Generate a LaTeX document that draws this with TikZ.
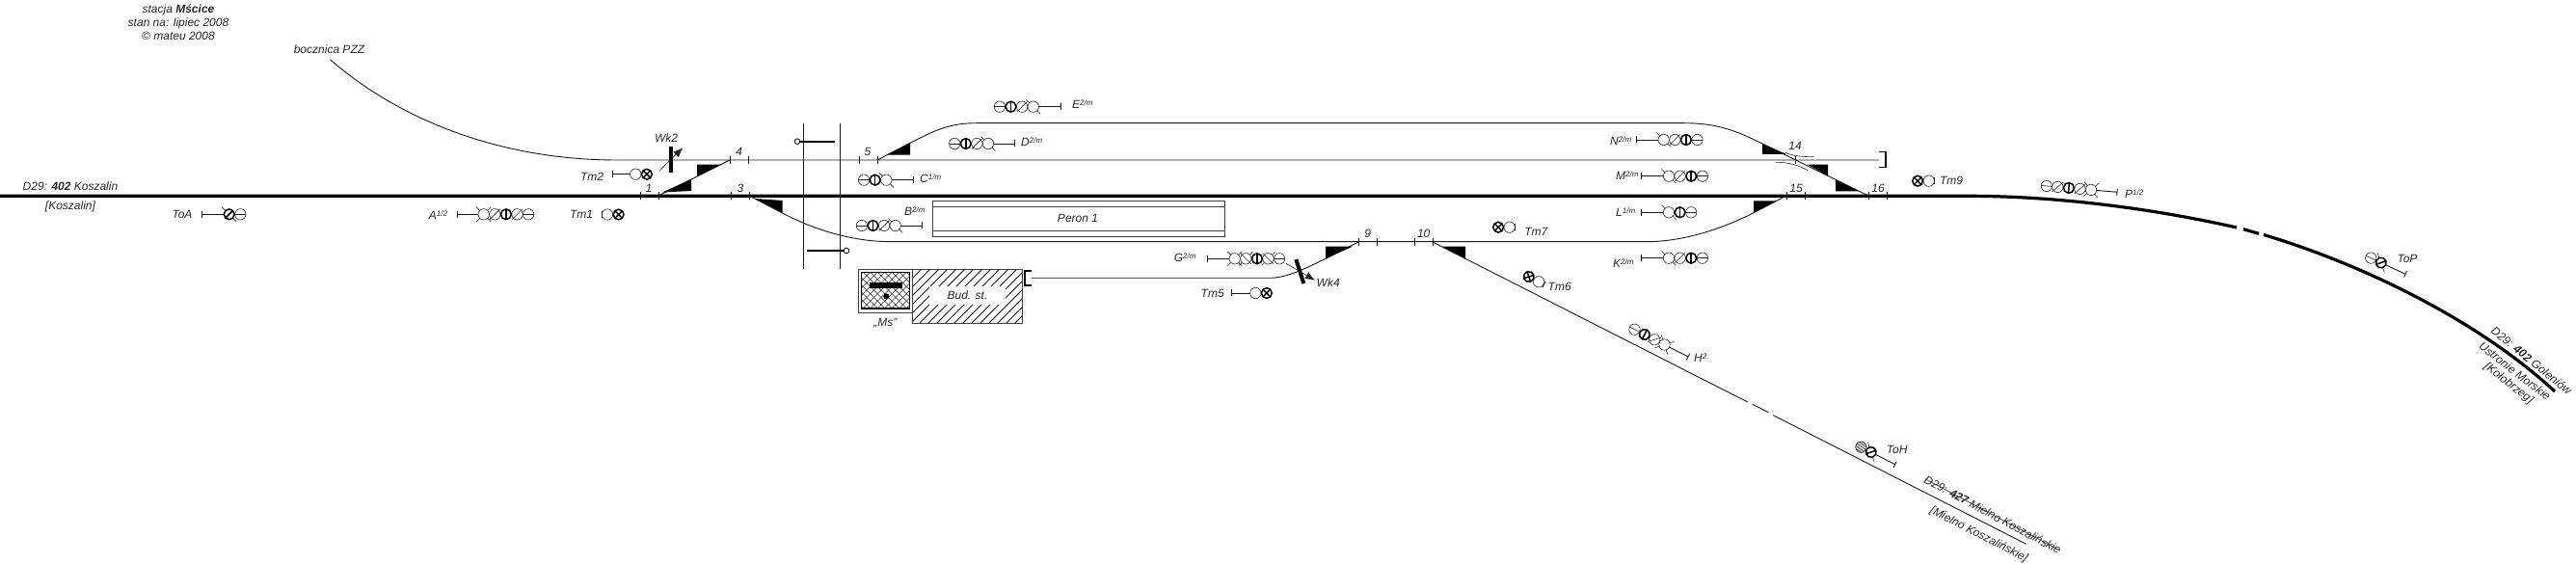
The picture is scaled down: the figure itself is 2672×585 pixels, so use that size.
\documentclass[tikz,border=0pt]{standalone}
\usepackage{fontspec}
\setmainfont{Liberation Sans}
\usetikzlibrary{arrows.meta}
\tikzset{
  tor/.style={line width=0.9pt,black!90},
  glowny/.style={line width=3.2pt,black},
  cienki/.style={line width=0.6pt,black!85},
  gruby/.style={line width=1.5pt,black},
  klin/.style={fill=black,draw=none},
  opis/.style={font=\fontsize{12}{14.3}\selectfont\itshape,inner sep=0pt,black!85,align=center},
  opisl/.style={opis,anchor=west},
  peron/.style={line width=0.9pt,black!75},
  belka/.style={line width=4pt,black},
  strzalka/.style={cienki,-{Latex[length=10pt,width=8pt]}},
}
\newcommand{\wyk}[1]{\raisebox{.55ex}{\fontsize{8}{8}\selectfont #1}}
\newcommand{\lampO}{\draw[cienki] (0,0) circle (5.7);}
\newcommand{\lampE}{\draw[cienki] (0,0) circle (5.7); \draw[cienki] (-5.7,0) -- (5.7,0);}
\newcommand{\lampV}{\draw[gruby] (0,0) circle (5.4); \draw[gruby] (0,-5.4) -- (0,5.4);}
\newcommand{\lampS}{\draw[cienki] (0,0) circle (5.7); \draw[cienki] (-5.4,5.4) -- (5.4,-5.4);}
\newcommand{\lampD}{\draw[cienki] (0,0) circle (5.7); \draw[cienki] (-5.4,-5.4) -- (5.4,5.4);
  \draw[cienki] (-4,4) -- (-7,7) (4,-4) -- (7,-7);}
\newcommand{\lampK}{\lampO \draw[cienki] (-4,-4) -- (-7.5,-7.5) (4,4) -- (7.5,7.5);}
\newcommand{\lampN}{\lampK \draw[cienki] (-4,4) -- (-7.5,7.5) (4,-4) -- (7.5,-7.5);}
\newcommand{\lampB}{\draw[gruby] (0,0) circle (5.4); \draw[gruby] (-3.8,3.8) -- (3.8,-3.8);
  \draw[cienki] (-4,-4) -- (-7.5,-7.5) (4,4) -- (7.5,7.5);}
\newcommand{\lampX}{\draw[gruby] (0,0) circle (5.4); \draw[gruby] (-3.8,-3.8) -- (3.8,3.8) (-3.8,3.8) -- (3.8,-3.8);}
\newcommand{\lampH}{\draw[cienki] (0,0) circle (5.7);
  \begin{scope}
    \clip (0,0) circle (5.7);
    \foreach \s in {-8,-6,...,8}
      \draw[line width=.5pt,black!80] (\s-6,6) -- (\s+6,-6);
  \end{scope}}
\newcommand{\sygnal}[4]{
  \begin{scope}[shift={#1},rotate=#2]
    \draw[tor] (0,-3.5) -- (0,3.5);
    \draw[tor] (0,0) -- ({#3-5.7},0);
    \foreach \l [count=\i from 0] in {#4} {
      \begin{scope}[shift={({#3+11.6*\i},0)}]
        \csname lamp\l\endcsname
      \end{scope}
    }
  \end{scope}
}
\begin{document}
\begin{tikzpicture}[x=1pt,y=-1pt]
  \useasboundingbox (0,0) rectangle (2672,585);
  \coordinate (j1) at (683,203);
  \coordinate (j3) at (777,203);
  \coordinate (j4) at (757,166);
  \coordinate (j5) at (910,166);
  \coordinate (j9) at (1409,251);
  \coordinate (j10) at (1486,251);
  \coordinate (j15) at (1853,203);
  \coordinate (j16) at (1938,203);
  % tory
  \draw[glowny] (0,203.3) -- (2040,203.3) .. controls (2140,203.3) and (2240,218) .. (2320,236);
  \draw[glowny] (2327,237.7) -- (2343,242.3);
  \draw[glowny] (2348,243.5) .. controls (2450,274) and (2570,332) .. (2650,406);
  \draw[tor] (342.4,61.7) .. controls (415,125) and (520,166) .. (640,166) -- (1949,166);
  \draw[tor] (j1) -- (j4);
  \draw[tor] (j3) -- (811,220.7) .. controls (840,236) and (880,250.7) .. (925,250.7) -- (1708,250.7)
    .. controls (1745,250.7) and (1785,238) .. (1819,220.7) -- (j15);
  \draw[tor] (j5) -- (944,148.3) .. controls (970,135) and (985,127.7) .. (1013,127.7) -- (1747,127.7)
    .. controls (1785,127.7) and (1805,138) .. (1828,149) -- (j16);
  \draw[tor] (j9) -- (1375,268.3) .. controls (1355,278) and (1335,288.3) .. (1317,288.3) -- (1070,288.3);
  \draw[tor] (j10) -- (1812.7,417);
  \draw[tor] (1817.7,419.3) -- (1834.3,427.7);
  \draw[tor] (1839.3,430.7) -- (2101.7,564.3);
  \draw[cienki] (1851.7,158.3) .. controls (1860,162) and (1870,162.7) .. (1881.7,162.7);
  \draw[cienki] (1841.7,168.3) .. controls (1855,168.3) and (1865,171) .. (1875,176.7);
  % kozly
  \draw[line width=1.2pt] (1949,157.5) -- (1956,157.5) -- (1956,173.5) -- (1949,173.5);
  \draw[line width=1.2pt] (1070,281) -- (1063,281) -- (1063,296) -- (1070,296);
  % styki
  \foreach \x in {664,683,758,777,1853,1872,1938,1957}
    \draw[tor] (\x,199.5) -- (\x,207);
  \foreach \x in {757,776,891,910,1862}
    \draw[tor] (\x,162.2) -- (\x,169.7);
  \foreach \x in {1409,1428,1467,1486}
    \draw[tor] (\x,247.2) -- (\x,254.7);
  \foreach \n/\x/\y in {1/673/195,4/766.7/157,3/768/195,5/900/157,9/1418.7/242,10/1476.7/242,14/1862/151,15/1863/195,16/1948/195}
    \node[opis] (z\n) at (\x,\y) {\n};
  % kliny
  \fill[klin] (687,199.5) -- (717,186) -- (717,198) -- cycle;
  \fill[klin] (723,170.7) -- (723,182.7) -- (748,170.7) -- cycle;
  \fill[klin] (782.7,206) -- (811.7,208) -- (811.7,220.7) -- cycle;
  \fill[klin] (920,160.7) -- (944,148) -- (944,160.7) -- cycle;
  \fill[klin] (1375,255.7) -- (1375,268.3) -- (1403,255.7) -- cycle;
  \fill[klin] (1496,255.7) -- (1520,255.7) -- (1520,268.3) -- cycle;
  \fill[klin] (1828,149) -- (1828,160) -- (1853,160) -- cycle;
  \fill[klin] (1875,170.7) -- (1896,170.7) -- (1896,182.3) -- cycle;
  \fill[klin] (1904,186.7) -- (1904,198.3) -- (1928,198.3) -- cycle;
  \fill[klin] (1819,208.3) -- (1843,208.3) -- (1819,220.7) -- cycle;
  % przejazd
  \draw[tor] (833.3,127.7) -- (833.3,279);
  \draw[tor] (871.3,127.7) -- (871.3,279);
  \draw[line width=2.2pt] (830,146.7) -- (865.7,146.7);
  \draw[tor,fill=white] (827,146.7) circle (2.8);
  \draw[line width=2.2pt] (837.3,260) -- (875,260);
  \draw[tor,fill=white] (878,260) circle (2.8);
  % peron
  \draw[peron] (967.3,208.7) rectangle (1270.3,245);
  \draw[peron] (967.3,214.7) -- (1270.3,214.7);
  \draw[peron] (967.3,239.3) -- (1270.3,239.3);
  \node[opis] (peron1) at (1118,226) {Peron 1};
  % budynek
  \begin{scope}
    \clip (946.7,279) rectangle (1060.3,335.7);
    \foreach \x in {890,899,...,1060}
      \draw[line width=.9pt] (\x,336) -- ({\x+57},279);
  \end{scope}
  \draw[peron] (946.7,279) rectangle (1060.3,335.7);
  \node[opis,fill=white,minimum width=79pt,minimum height=19pt] (bud) at (1003.5,306.5) {Bud. st.};
  \draw[peron] (890.3,279) rectangle (946.7,324.3);
  \begin{scope}
    \clip (893.7,282.3) rectangle (943.7,320);
    \foreach \x in {850,857.5,...,950} {
      \draw[line width=.4pt,black!85] (\x,320) -- ({\x+38},282);
      \draw[line width=.4pt,black!85] (\x,282) -- ({\x+38},320);
    }
  \end{scope}
  \draw[line width=1.1pt] (893.7,282.3) rectangle (943.7,320);
  \fill (901.7,293.3) rectangle (936,298.7);
  \fill (919.3,307.3) circle (3);
  \node[opis] (ms) at (918.3,335) {„Ms”};
  % wykolejnice
  \draw[belka] (695.7,152.3) -- (695.7,178.7);
  \draw[strzalka] (684.3,176.7) -- (708.3,153.3);
  \node[opis] (wk2) at (691,143.3) {Wk2};
  \draw[belka] (1344.3,269) -- (1352.3,294);
  \draw[strzalka] (1334,273.3) -- (1364,290.7);
  \node[opis] (wk4) at (1377.7,293.3) {Wk4};
  % semafory
  \sygnal{(209.3,222.3)}{0}{28.4}{B,E}
  \sygnal{(474,222.3)}{0}{27.7}{N,S,V,S,E}
  \sygnal{(624.3,222.5)}{0}{5.7}{O,X}
  \sygnal{(635,180.7)}{0}{24.3}{O,X}
  \sygnal{(947.3,186.7)}{180}{28}{K,V,E}
  \sygnal{(1052.7,149)}{180}{27.7}{K,S,V,E}
  \sygnal{(1100.7,110.7)}{180}{29}{K,S,V,E}
  \sygnal{(956.7,234)}{180}{28}{K,S,V,E}
  \sygnal{(1252.7,268.3)}{0}{28}{N,D,V,D,E}
  \sygnal{(1277.3,304)}{0}{25}{O,X}
  \sygnal{(1571.4,235.7)}{180}{5.7}{O,X}
  \sygnal{(1601.5,295)}{153}{6}{O,X}
  \sygnal{(1697.7,145)}{0}{28}{K,S,V,E}
  \sygnal{(1702.7,182.7)}{0}{28.3}{K,S,V,E}
  \sygnal{(1702.7,220.3)}{0}{28.3}{K,V,E}
  \sygnal{(1702.7,267.7)}{0}{28.3}{K,S,V,E}
  \sygnal{(2006.4,187.7)}{180}{5.7}{O,X}
  \sygnal{(2196,199.3)}{175}{27.1}{N,S,V,S,E}
  \sygnal{(2495,284.3)}{155}{27.9}{B,E}
  \sygnal{(1751,370)}{153}{27.5}{N,S,V,E}
  \sygnal{(1965.7,481.7)}{153}{28}{B,H}
  % opisy
  \node[opis] (tytul) at (185,23) {stacja \textbf{Mścice}\\stan na: lipiec 2008\\© mateu 2008};
  \node[opis] (pzz) at (341.5,51.7) {bocznica PZZ};
  \node[opis] (lin402) at (73,193) {D29: \textbf{402} Koszalin};
  \node[opis] (kosz) at (73,214) {[Koszalin]};
  \node[opis] (toa) at (189,222) {ToA};
  \node[opis] (tm1) at (603,222) {Tm1};
  \node[opis] (tm2) at (614,183) {Tm2};
  \node[opis] (tm5) at (1257.7,304.3) {Tm5};
  \node[opis] (tm6) at (1617.7,297.3) {Tm6};
  \node[opis] (tm7) at (1593.3,240) {Tm7};
  \node[opis] (tm9) at (2024,187) {Tm9};
  \node[opis] (top) at (2497,268.3) {ToP};
  \node[opis] (toh) at (1967.7,466.7) {ToH};
  \node[opis] (a) at (454.5,223) {A\wyk{1/2}};
  \node[opisl] (c) at (954,185) {C\wyk{1/m}};
  \node[opisl] (d) at (1059,147) {D\wyk{2/m}};
  \node[opisl] (e) at (1112,108) {E\wyk{2/m}};
  \node[opisl] (b) at (938,219) {B\wyk{2/m}};
  \node[opisl] (g) at (1217.7,267) {G\wyk{2/m}};
  \node[opisl] (n) at (1670,146) {N\wyk{2/m}};
  \node[opisl] (m) at (1676,182) {M\wyk{2/m}};
  \node[opisl] (l) at (1676,220) {L\wyk{1/m}};
  \node[opisl] (k) at (1673,273) {K\wyk{2/m}};
  \node[opisl] (h) at (1757,371) {H\wyk{2}};
  \node[opisl] (p) at (2204,201) {P\wyk{1/2}};
  \node[opis,rotate=-28] (lin427) at (2067,534) {D29: \textbf{427} Mielno Koszalińskie};
  \draw[cienki] (lin427.west) -- (lin427.east);
  \node[opis,rotate=-27.5] (miel) at (2052.5,554.7) {[Mielno Koszalińskie]};
  \node[opis,rotate=-39] (gol) at (2626,374) {D29: \textbf{402} Goleniów};
  \node[opis,rotate=-38] (ust) at (2608.7,385) {Ustronie Morskie};
  \node[opis,rotate=-38] (kol) at (2602,398) {[Kołobrzeg]};
\end{tikzpicture}
\end{document}
